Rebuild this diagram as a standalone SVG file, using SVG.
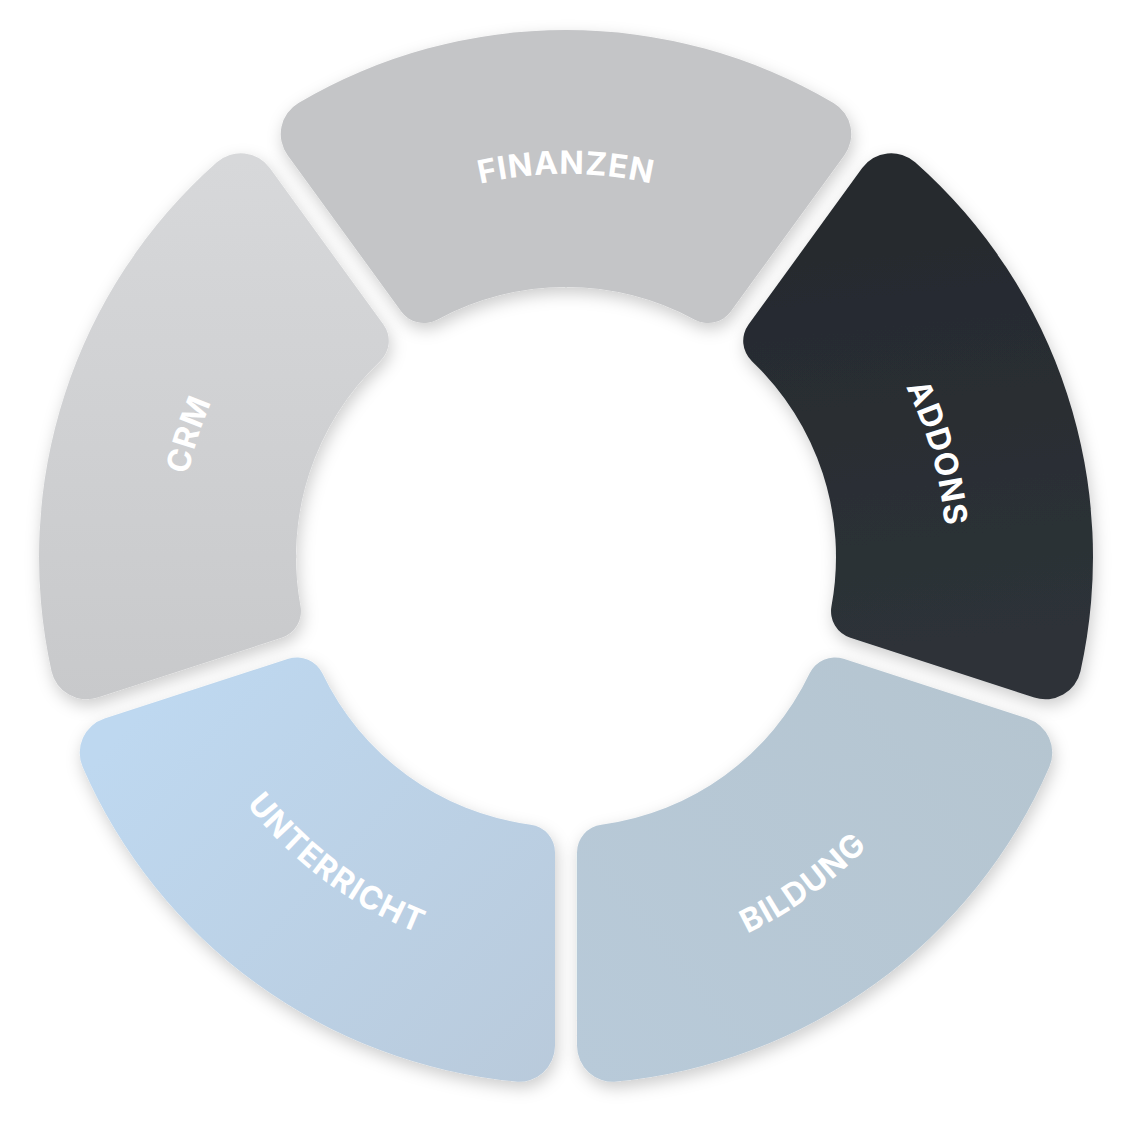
<svg xmlns="http://www.w3.org/2000/svg" xmlns:xlink="http://www.w3.org/1999/xlink" width="1133" height="1126" viewBox="0 0 1133 1126">
  <style>
    .lbl { font-family: Inter, "Open Sans", "Liberation Sans", sans-serif; font-weight: 700; font-size: 32px; fill: #ffffff; letter-spacing: 1px; }
  </style>
  <defs>
    <path id="seg" d="M -267.53 -454.05 A 527 527 0 0 1 267.53 -454.05 A 36 36 0 0 1 278.38 -401.87 L 164.76 -245.48 A 28 28 0 0 1 128.75 -237.33 A 270 270 0 0 0 -128.75 -237.33 A 28 28 0 0 1 -164.76 -245.48 L -278.38 -401.87 A 36 36 0 0 1 -267.53 -454.05 Z"/>
    <path id="arcF" d="M -246.19 -293.40 A 383 383 0 0 1 246.19 -293.40"/>
    <path id="arcA" d="M -244.26 -291.10 A 380 380 0 0 1 244.26 -291.10"/>
    <path id="arcC" d="M -248.76 -296.46 A 387 387 0 0 1 248.76 -296.46"/>
    <path id="arcU" d="M 259.69 -309.48 A 404 404 0 0 0 -259.69 -309.48"/>
    <path id="arcB" d="M 268.69 -320.21 A 418 418 0 0 0 -268.69 -320.21"/>
    <filter id="sh" x="-20%" y="-20%" width="140%" height="140%">
      <feDropShadow dx="2" dy="6" stdDeviation="8" flood-color="#000000" flood-opacity="0.2"/>
    </filter>
    <linearGradient id="gCrm" gradientUnits="userSpaceOnUse" x1="200" y1="160" x2="200" y2="700" gradientTransform="rotate(-288) translate(-566 -557)">
      <stop offset="0" stop-color="#d7d8da"/>
      <stop offset="1" stop-color="#c8c9cb"/>
    </linearGradient>
    <linearGradient id="gAdd" gradientUnits="userSpaceOnUse" x1="900" y1="160" x2="960" y2="700" gradientTransform="rotate(-72) translate(-566 -557)">
      <stop offset="0" stop-color="#25292d"/>
      <stop offset="1" stop-color="#2e3339"/>
    </linearGradient>
    <linearGradient id="gUnt" gradientUnits="userSpaceOnUse" x1="150" y1="700" x2="560" y2="1080" gradientTransform="rotate(-216) translate(-566 -557)">
      <stop offset="0" stop-color="#bed8f0"/>
      <stop offset="1" stop-color="#b9cadb"/>
    </linearGradient>
    <linearGradient id="gBil" gradientUnits="userSpaceOnUse" x1="580" y1="1080" x2="1050" y2="700" gradientTransform="rotate(-144) translate(-566 -557)">
      <stop offset="0" stop-color="#b8cad9"/>
      <stop offset="1" stop-color="#b5c5d0"/>
    </linearGradient>
  </defs>

  <rect width="1133" height="1126" fill="#ffffff"/>

  <g id="connectors"></g>

  <g id="node-finanzen">
    <g filter="url(#sh)"><use href="#seg" transform="translate(566 557)" fill="#c4c5c7"/></g>
    <text class="lbl" transform="translate(566 557)"><textPath href="#arcF" startOffset="50%" text-anchor="middle">FINANZEN</textPath></text>
  </g>

  <g id="node-addons">
    <g filter="url(#sh)"><use href="#seg" transform="translate(566 557) rotate(72)" fill="url(#gAdd)"/></g>
    <text class="lbl" transform="translate(566 557) rotate(72)"><textPath href="#arcA" startOffset="53%" text-anchor="middle">ADDONS</textPath></text>
  </g>

  <g id="node-bildung">
    <g filter="url(#sh)"><use href="#seg" transform="translate(566 557) rotate(144)" fill="url(#gBil)"/></g>
    <text class="lbl" transform="translate(566 557) rotate(144)"><textPath href="#arcB" startOffset="50%" text-anchor="middle">BILDUNG</textPath></text>
  </g>

  <g id="node-unterricht">
    <g filter="url(#sh)"><use href="#seg" transform="translate(566 557) rotate(216)" fill="url(#gUnt)"/></g>
    <text class="lbl" transform="translate(566 557) rotate(216)"><textPath href="#arcU" startOffset="49%" text-anchor="middle">UNTERRICHT</textPath></text>
  </g>

  <g id="node-crm">
    <g filter="url(#sh)"><use href="#seg" transform="translate(566 557) rotate(288)" fill="url(#gCrm)"/></g>
    <text class="lbl" transform="translate(566 557) rotate(288)"><textPath href="#arcC" startOffset="50%" text-anchor="middle">CRM</textPath></text>
  </g>
</svg>
